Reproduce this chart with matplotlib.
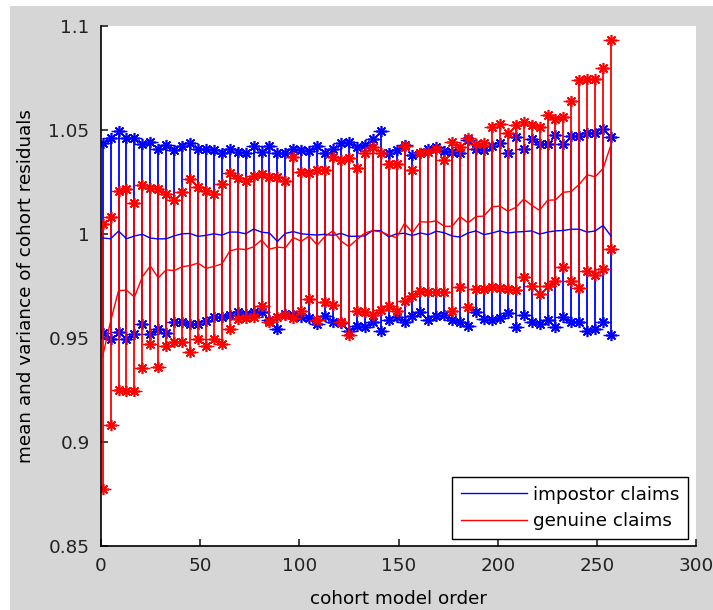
import numpy as np
import matplotlib.pyplot as plt
from matplotlib.patches import Rectangle
from matplotlib.lines import Line2D

plt.rcParams['font.family'] = ['DejaVu Sans']
plt.rcParams['font.size'] = 13.2

# cohort model order (every 4th model)
order = np.arange(1, 258, 4)

# impostor claims: mean +/- variance ends
imp_hi = [1.0436, 1.0460, 1.0497, 1.0460, 1.0460, 1.0431, 1.0440, 1.0411, 1.0428, 1.0403, 1.0423, 1.0439, 1.0411, 1.0407,
          1.0403, 1.0387, 1.0407, 1.0395, 1.0387, 1.0424, 1.0395, 1.0423, 1.0387, 1.0391, 1.0411, 1.0403, 1.0399,
          1.0423, 1.0391, 1.0407, 1.0436, 1.0444, 1.0420, 1.0428, 1.0455, 1.0497, 1.0387, 1.0403, 1.0428, 1.0379,
          1.0387, 1.0407, 1.0420, 1.0400, 1.0395, 1.0391, 1.0452, 1.0407, 1.0403, 1.0423, 1.0436, 1.0391, 1.0465,
          1.0411, 1.0455, 1.0432, 1.0432, 1.0476, 1.0432, 1.0471, 1.0471, 1.0484, 1.0487, 1.0503, 1.0465]
imp_lo = [0.9526, 0.9494, 0.9531, 0.9494, 0.9521, 0.9566, 0.9521, 0.9542, 0.9526, 0.9579, 0.9579, 0.9566, 0.9566, 0.9580,
          0.9599, 0.9602, 0.9612, 0.9623, 0.9615, 0.9623, 0.9623, 0.9586, 0.9542, 0.9615, 0.9612, 0.9599, 0.9596,
          0.9567, 0.9607, 0.9579, 0.9570, 0.9534, 0.9558, 0.9554, 0.9579, 0.9534, 0.9586, 0.9599, 0.9579, 0.9607,
          0.9623, 0.9586, 0.9607, 0.9612, 0.9586, 0.9579, 0.9558, 0.9623, 0.9591, 0.9586, 0.9595, 0.9618, 0.9554,
          0.9612, 0.9575, 0.9567, 0.9586, 0.9554, 0.9602, 0.9575, 0.9575, 0.9534, 0.9542, 0.9579, 0.9515]

# genuine claims: mean +/- variance ends
gen_hi = [1.0049, 1.0082, 1.0207, 1.0215, 1.0149, 1.0234, 1.0223, 1.0218, 1.0194, 1.0165, 1.0202, 1.0262, 1.0226, 1.0207,
          1.0194, 1.0242, 1.0294, 1.0267, 1.0255, 1.0278, 1.0288, 1.0275, 1.0275, 1.0255, 1.0371, 1.0299, 1.0294,
          1.0307, 1.0307, 1.0371, 1.0358, 1.0363, 1.0315, 1.0387, 1.0420, 1.0387, 1.0336, 1.0336, 1.0423, 1.0310,
          1.0391, 1.0395, 1.0407, 1.0355, 1.0444, 1.0420, 1.0460, 1.0432, 1.0436, 1.0516, 1.0529, 1.0484, 1.0524,
          1.0540, 1.0524, 1.0516, 1.0572, 1.0552, 1.0561, 1.0637, 1.0738, 1.0745, 1.0745, 1.0798, 1.0931]
gen_lo = [0.8775, 0.9080, 0.9248, 0.9245, 0.9245, 0.9354, 0.9470, 0.9360, 0.9462, 0.9483, 0.9483, 0.9434, 0.9494, 0.9462,
          0.9494, 0.9470, 0.9542, 0.9591, 0.9595, 0.9599, 0.9655, 0.9579, 0.9599, 0.9612, 0.9595, 0.9631, 0.9687,
          0.9586, 0.9671, 0.9660, 0.9575, 0.9515, 0.9631, 0.9623, 0.9612, 0.9634, 0.9655, 0.9628, 0.9679, 0.9703,
          0.9727, 0.9719, 0.9719, 0.9719, 0.9631, 0.9747, 0.9647, 0.9736, 0.9736, 0.9744, 0.9740, 0.9736, 0.9731,
          0.9795, 0.9752, 0.9711, 0.9752, 0.9776, 0.9840, 0.9772, 0.9740, 0.9824, 0.9805, 0.9832, 0.9929]

fig = plt.figure(figsize=(7.13, 6.10), dpi=100, facecolor='white')
# grey figure panel behind the axes
fig.patches.append(Rectangle((10 / 713, 0), 1, 604 / 610, transform=fig.transFigure,
                             facecolor='#d6d6d6', edgecolor='none', zorder=-10))
ax = fig.add_axes([0.1412, 0.1049, 0.8356, 0.8525])

star = (8, 2, 0)
for hi, lo, c, name in [(imp_hi, imp_lo, 'blue', 'impostor claims'),
                        (gen_hi, gen_lo, 'red', 'genuine claims')]:
    hi = np.array(hi)
    lo = np.array(lo)
    mean = (hi + lo) / 2
    err = (hi - lo) / 2
    ax.errorbar(order, mean, yerr=err, color=c, lw=1.0, elinewidth=1.3,
                capsize=6, capthick=1.0, label=name)
    ax.plot(order, hi, ls='none', marker=star, ms=8, mew=1.2, color=c)
    ax.plot(order, lo, ls='none', marker=star, ms=8, mew=1.2, color=c)

ax.set_xlim(0, 300)
ax.set_ylim(0.85, 1.1)
ax.set_xticks([0, 50, 100, 150, 200, 250, 300])
ax.set_yticks([0.85, 0.9, 0.95, 1.0, 1.05, 1.1])
ax.set_yticklabels(['0.85', '0.9', '0.95', '1', '1.05', '1.1'])
ax.spines['top'].set_visible(False)
ax.spines['right'].set_visible(False)
ax.spines['left'].set_linewidth(1.2)
ax.spines['bottom'].set_linewidth(1.2)
ax.tick_params(direction='in', length=5, width=1.2, color='#222222', labelcolor='#222222')
ax.tick_params(axis='x', pad=8)
ax.tick_params(axis='y', pad=8)

ax.set_xlabel('cohort model order', labelpad=11)
ax.set_ylabel('mean and variance of cohort residuals', labelpad=10)

labels = ['impostor claims', 'genuine claims']
handles = [Line2D([], [], color='blue', lw=1.0), Line2D([], [], color='red', lw=1.0)]
leg = ax.legend(handles, labels, loc='lower right', bbox_to_anchor=(0.986, 0.013),
                borderaxespad=0, fancybox=False, framealpha=1, edgecolor='black',
                handlelength=3.6, handletextpad=0.3, labelspacing=0.45, borderpad=0.5)
leg.get_frame().set_linewidth(1.0)

plt.savefig('out.png', dpi=100, facecolor=fig.get_facecolor())
